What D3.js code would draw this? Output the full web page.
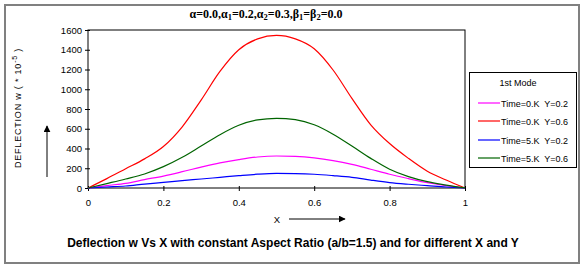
<!DOCTYPE html>
<html lang="en">
<head>
<meta charset="UTF-8">
<title>Deflection w Vs X</title>
<style>
  body, html { margin: 0; padding: 0; background: #fff; }
  #svg { display: block; }
  text { font-family: "Liberation Sans", Arial, sans-serif; fill: #000; }
</style>
</head>
<body>
<svg id="svg" width="584" height="266"></svg>
<script src="https://d3js.org/d3.v7.min.js"></script>
<script>
// values, x in 0.05 steps
const xValues = [0, 0.05, 0.1, 0.15, 0.2, 0.25, 0.3, 0.35, 0.4, 0.45, 0.5,
                 0.55, 0.6, 0.65, 0.7, 0.75, 0.8, 0.85, 0.9, 0.95, 1]
const t0y02 = [0, 25, 47, 85, 121, 165, 212, 255, 288, 314, 324, 320, 305, 278, 240, 190, 139, 95, 54, 25, 0]
const t0y06 = [0, 95, 195, 295, 420, 620, 890, 1180, 1400, 1510, 1545, 1510, 1410, 1195, 908, 640, 450, 300, 170, 81, 0]
const t5y02 = [0, 10, 20, 40, 57, 75, 91, 108, 125, 140, 148, 146, 139, 125, 108, 80, 55, 38, 24, 10, 0]
const t5y06 = [0, 45, 91, 142, 216, 311, 425, 540, 635, 690, 706, 692, 640, 545, 425, 300, 190, 115, 64, 30, 0]

const seriesNames = ['Time=0.K  Y=0.2', 'Time=0.K  Y=0.6', 'Time=5.K  Y=0.2', 'Time=5.K  Y=0.6']
const seriesColors = ['#ff00ff', '#ff0000', '#0000ff', '#006400']
const seriesValues = [t0y02, t0y06, t5y02, t5y06]

const yTicks = [0, 200, 400, 600, 800, 1000, 1200, 1400, 1600]
const xTicks = [0, 0.2, 0.4, 0.6, 0.8, 1]

const svg = d3.select('#svg')

// outer gray frame
svg.append('rect')
  .attr('x', 5).attr('y', 5)
  .attr('width', 574).attr('height', 258)
  .attr('fill', 'none').attr('stroke', '#808080').attr('stroke-width', 2)

const xscale = d3.scaleLinear().domain([0, 1]).range([88, 465])
const yscale = d3.scaleLinear().domain([0, 1600]).range([188, 30])

// plot frame
svg.append('rect')
  .attr('x', 88).attr('y', 30)
  .attr('width', 377).attr('height', 158)
  .attr('fill', 'none').attr('stroke', '#000').attr('stroke-width', 1)

const yAxis = svg.append('g')
  .attr('transform', 'translate(88,0)')
  .call(d3.axisLeft(yscale).tickValues(yTicks).tickSize(3).tickPadding(3).tickFormat(d3.format('d')))
yAxis.selectAll('.tick line').attr('x1', 2)

const xAxis = svg.append('g')
  .attr('transform', 'translate(0,188)')
  .call(d3.axisBottom(xscale).tickValues(xTicks).tickSize(3).tickPadding(8).tickFormat(d => d))
xAxis.selectAll('.tick line').attr('y1', -2)

svg.selectAll('.domain').remove()
svg.selectAll('.tick text').style('font-size', '9.5px').style('font-family', '"Liberation Sans", Arial, sans-serif')

// lines
const linegen = d3.line()
  .x((d, i) => xscale(xValues[i]))
  .y(d => yscale(d))
  .curve(d3.curveMonotoneX)

seriesValues.forEach((vals, i) => {
  svg.append('path')
    .attr('d', linegen(vals))
    .attr('fill', 'none')
    .attr('stroke', seriesColors[i])
    .attr('stroke-width', 1.2)
})

// title
const title = svg.append('text')
  .attr('x', 266).attr('y', 18)
  .attr('text-anchor', 'middle')
  .style('font-family', '"Liberation Serif", "Times New Roman", serif')
  .style('font-weight', 'bold')
  .style('font-size', '12px')
const titleParts = [['α=0.0,α', ''], ['1', 'sub'], ['=0.2,α', ''], ['2', 'sub'], ['=0.3,β', ''], ['1', 'sub'], ['=β', ''], ['2', 'sub'], ['=0.0', '']]
titleParts.forEach(p => {
  const ts = title.append('tspan').text(p[0])
  if (p[1] === 'sub') ts.attr('baseline-shift', '-2').style('font-size', '8.5px')
})

// y label
const ylab = svg.append('text')
  .attr('transform', 'translate(21,108) rotate(-90)')
  .attr('text-anchor', 'middle')
  .style('font-size', '9px')
  .style('letter-spacing', '0.8px')
ylab.append('tspan').text('DEFLECTION w ( * 10')
ylab.append('tspan').text('-5').attr('baseline-shift', '4').style('font-size', '7px')
ylab.append('tspan').text(' )')

// arrows
svg.append('defs').append('marker')
  .attr('id', 'arr').attr('viewBox', '0 0 10 10')
  .attr('refX', 9).attr('refY', 5)
  .attr('markerWidth', 7).attr('markerHeight', 7)
  .attr('markerUnits', 'userSpaceOnUse')
  .attr('orient', 'auto')
  .append('path').attr('d', 'M0,0 L10,5 L0,10 z').attr('fill', '#000')

svg.append('line')
  .attr('x1', 47).attr('y1', 177).attr('x2', 47).attr('y2', 126)
  .attr('stroke', '#000').attr('stroke-width', 1).attr('marker-end', 'url(#arr)')
svg.append('line')
  .attr('x1', 289).attr('y1', 219).attr('x2', 345).attr('y2', 219)
  .attr('stroke', '#000').attr('stroke-width', 1).attr('marker-end', 'url(#arr)')

svg.append('text')
  .attr('x', 277).attr('y', 223)
  .attr('text-anchor', 'middle')
  .style('font-size', '9.5px')
  .text('X')

// caption
svg.append('text')
  .attr('x', 293).attr('y', 247)
  .attr('text-anchor', 'middle')
  .style('font-size', '12px')
  .style('font-weight', 'bold')
  .text('Deflection w Vs X with constant Aspect Ratio (a/b=1.5) and for different X and Y')

// legend
const legend = svg.append('g')
legend.append('rect')
  .attr('x', 469.5).attr('y', 72.5)
  .attr('width', 107).attr('height', 95)
  .attr('fill', '#fff').attr('stroke', '#000').attr('stroke-width', 1)
legend.append('text')
  .attr('x', 518).attr('y', 86)
  .attr('text-anchor', 'middle')
  .style('font-size', '9px')
  .text('1st Mode')
const legendY = [103, 121, 140, 158]
seriesNames.forEach((name, i) => {
  legend.append('line')
    .attr('x1', 478).attr('x2', 500)
    .attr('y1', legendY[i]).attr('y2', legendY[i])
    .attr('stroke', seriesColors[i]).attr('stroke-width', 1.2)
  legend.append('text')
    .attr('x', 501).attr('y', legendY[i] + 3.5)
    .style('font-size', '9px')
    .style('white-space', 'pre')
    .text(name)
})
</script>
</body>
</html>
